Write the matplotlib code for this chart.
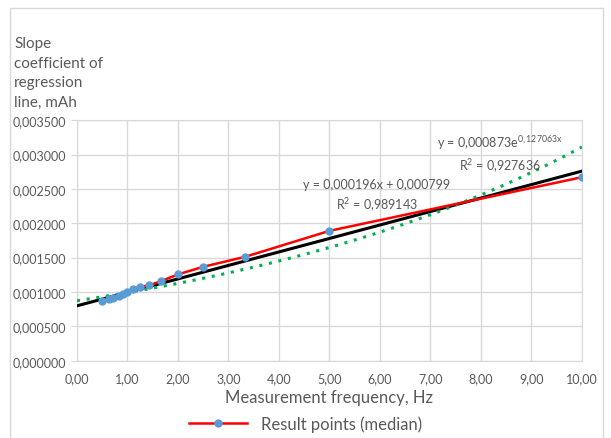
import numpy as np
import matplotlib
matplotlib.use("Agg")
import matplotlib.pyplot as plt
from matplotlib.ticker import FuncFormatter, MultipleLocator
from matplotlib.patches import Rectangle

plt.rcParams['font.family'] = ['Lato', 'DejaVu Sans']
plt.rcParams['mathtext.fontset'] = 'custom'
plt.rcParams['mathtext.rm'] = 'Lato'
plt.rcParams['mathtext.it'] = 'Lato'

# median result points
freq = [0.50, 0.625, 0.714, 0.833, 0.909, 1.00, 1.11, 1.25, 1.43, 1.67, 2.00, 2.50, 3.33, 5.00, 10.00]
slope = [0.000868, 0.000905, 0.000915, 0.000936, 0.000970, 0.001003, 0.001040, 0.001076, 0.001096,
         0.001160, 0.001256, 0.001367, 0.001512, 0.001890, 0.002670]

# trend lines (Excel)
lin_k, lin_b = 0.000196, 0.000799
exp_a, exp_k = 0.000873, 0.127063

grey = '#595959'

fig = plt.figure(figsize=(6.11, 4.39), dpi=100)
ax = fig.add_axes([0.126, 0.176, 0.8265, 0.548])

xs = np.linspace(0, 10, 200)
ax.plot(xs, lin_k * xs + lin_b, color='black', lw=2.2, zorder=3)
ax.plot(xs, exp_a * np.exp(exp_k * xs), color='#00b050', lw=2.2, ls=(0, (1, 2.2)), zorder=3)
ax.plot(freq, slope, color='red', lw=1.8, marker='o', ms=5,
        mfc='#5b9bd5', mec='#5b9bd5', zorder=4, label='Result points (median)')

ax.set_xlim(0, 10)
ax.set_ylim(0, 0.0035)
ax.xaxis.set_major_locator(MultipleLocator(1))
ax.yaxis.set_major_locator(MultipleLocator(0.0005))
ax.xaxis.set_major_formatter(FuncFormatter(lambda v, p: f"{v:.2f}".replace('.', ',')))
ax.yaxis.set_major_formatter(FuncFormatter(lambda v, p: f"{v:.6f}".replace('.', ',')))
ax.grid(color='#d9d9d9', lw=1)
ax.set_axisbelow(True)
for s in ax.spines.values():
    s.set_color('#d9d9d9')
ax.tick_params(axis='both', colors='#d9d9d9', labelcolor=grey, labelsize=9, length=4)
ax.tick_params(axis='x', length=0, pad=8)

ax.set_xlabel('Measurement frequency, Hz', fontsize=12, color=grey, labelpad=4)

fig.text(0.023, 0.915, 'Slope\ncoefficient of\nregression\nline, mAh', fontsize=11, color=grey,
         va='top', ha='left', linespacing=1.5)

ax.text(5.93, 0.00240, 'y = 0,000196x + 0,000799\nR$^2$ = 0,989143', fontsize=9, color=grey,
        ha='center', va='center', linespacing=1.4)
ax.text(8.37, 0.00302, 'y = 0,000873e$^{\\mathrm{0,127063x}}$\nR$^2$ = 0,927636', fontsize=9, color=grey,
        ha='center', va='center', linespacing=1.4)

fig.legend(loc='lower center', bbox_to_anchor=(0.5, -0.02), frameon=False, fontsize=12,
           labelcolor=grey, handlelength=3.5, numpoints=1)

fig.patches.append(Rectangle((0.017, -0.01), 0.97, 0.99, transform=fig.transFigure,
                             fill=False, ec='#d9d9d9', lw=1))

fig.savefig('out.png', dpi=100)
